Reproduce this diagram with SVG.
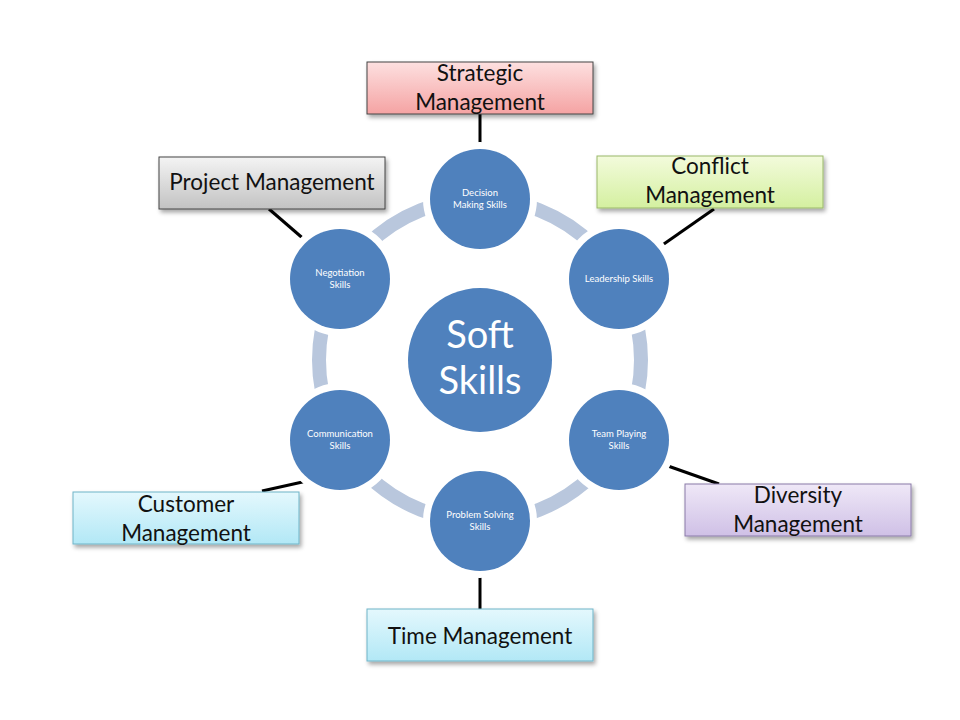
<svg xmlns="http://www.w3.org/2000/svg" width="960" height="720" viewBox="0 0 960 720">
<style>
.box{stroke:#444;stroke-width:1}
.bt{font-family:Lato,"Open Sans",sans-serif;font-size:22.5px;fill:#111;text-anchor:middle}
.ct{font-family:Lato,"Open Sans",sans-serif;font-size:9.5px;fill:#fff;text-anchor:middle}
.node circle{fill:#4f81bd;stroke:#fff;stroke-width:14;paint-order:stroke}
.link{stroke:#000;stroke-width:3;fill:none}
</style>
<defs>
<linearGradient id="gPink" x1="0" y1="0" x2="0" y2="1"><stop offset="0" stop-color="#fde0e0"/><stop offset="1" stop-color="#f5a3a3"/></linearGradient>
<linearGradient id="gGray" x1="0" y1="0" x2="0" y2="1"><stop offset="0" stop-color="#f4f4f4"/><stop offset="1" stop-color="#c2c2c2"/></linearGradient>
<linearGradient id="gGreen" x1="0" y1="0" x2="0" y2="1"><stop offset="0" stop-color="#f3fbdc"/><stop offset="1" stop-color="#d4f0a0"/></linearGradient>
<linearGradient id="gPurple" x1="0" y1="0" x2="0" y2="1"><stop offset="0" stop-color="#efe8f7"/><stop offset="1" stop-color="#cfc0e6"/></linearGradient>
<linearGradient id="gCyan" x1="0" y1="0" x2="0" y2="1"><stop offset="0" stop-color="#e4f8fd"/><stop offset="1" stop-color="#b2e8f6"/></linearGradient>
<filter id="sh" x="-10%" y="-20%" width="125%" height="150%"><feDropShadow dx="2" dy="3" stdDeviation="2" flood-color="#000" flood-opacity="0.35"/></filter>
</defs>
<rect width="960" height="720" fill="#fff"/>
<circle cx="480" cy="360" r="161" fill="none" stroke="#b9c7dd" stroke-width="14"/>
<g id="connectors">
<line class="link" x1="480" y1="114" x2="480" y2="150"/>
<line class="link" x1="269" y1="209" x2="306" y2="241"/>
<line class="link" x1="714" y1="209" x2="661" y2="246"/>
<line class="link" x1="668" y1="466" x2="719" y2="484"/>
<line class="link" x1="262" y1="491" x2="307" y2="481"/>
<line class="link" x1="480" y1="571" x2="480" y2="609"/>
</g>
<g id="center" class="node"><circle cx="480" cy="360" r="72" style="stroke:none"/>
<text x="480" y="348" style="font-family:Lato,'Open Sans',sans-serif;font-size:38px;fill:#fff;text-anchor:middle">Soft</text>
<text x="480" y="394" style="font-family:Lato,'Open Sans',sans-serif;font-size:38px;fill:#fff;text-anchor:middle">Skills</text></g>
<g id="decision" class="node"><circle cx="480" cy="199" r="50"/><text class="ct" x="480" y="196">Decision</text><text class="ct" x="480" y="208">Making Skills</text></g>
<g id="leadership" class="node"><circle cx="619" cy="279" r="50"/><text class="ct" x="619" y="282">Leadership Skills</text></g>
<g id="teamplaying" class="node"><circle cx="619" cy="440" r="50"/><text class="ct" x="619" y="437">Team Playing</text><text class="ct" x="619" y="449">Skills</text></g>
<g id="problemsolving" class="node"><circle cx="480" cy="521" r="50"/><text class="ct" x="480" y="518">Problem Solving</text><text class="ct" x="480" y="530">Skills</text></g>
<g id="communication" class="node"><circle cx="340" cy="440" r="50"/><text class="ct" x="340" y="437">Communication</text><text class="ct" x="340" y="449">Skills</text></g>
<g id="negotiation" class="node"><circle cx="340" cy="279" r="50"/><text class="ct" x="340" y="276">Negotiation</text><text class="ct" x="340" y="288">Skills</text></g>
<g id="strategic"><rect class="box" x="367" y="62" width="226" height="52" fill="url(#gPink)" filter="url(#sh)"/><text class="bt" x="480" y="81">Strategic</text><text class="bt" x="480" y="110">Management</text></g>
<g id="project"><rect class="box" x="159" y="157" width="226" height="52" fill="url(#gGray)" filter="url(#sh)"/><text class="bt" x="272" y="190">Project Management</text></g>
<g id="conflict"><rect class="box" x="597" y="156" width="226" height="52" fill="url(#gGreen)" filter="url(#sh)" style="stroke:#9ab86a"/><text class="bt" x="710" y="174">Conflict</text><text class="bt" x="710" y="203">Management</text></g>
<g id="diversity"><rect class="box" x="685" y="484" width="226" height="52" fill="url(#gPurple)" filter="url(#sh)" style="stroke:#8a7aa8"/><text class="bt" x="798" y="503">Diversity</text><text class="bt" x="798" y="532">Management</text></g>
<g id="customer"><rect class="box" x="73" y="492" width="226" height="52" fill="url(#gCyan)" filter="url(#sh)" style="stroke:#6fb4c8"/><text class="bt" x="186" y="512">Customer</text><text class="bt" x="186" y="541">Management</text></g>
<g id="time"><rect class="box" x="367" y="609" width="226" height="52" fill="url(#gCyan)" filter="url(#sh)" style="stroke:#6fb4c8"/><text class="bt" x="480" y="644">Time Management</text></g>
</svg>
